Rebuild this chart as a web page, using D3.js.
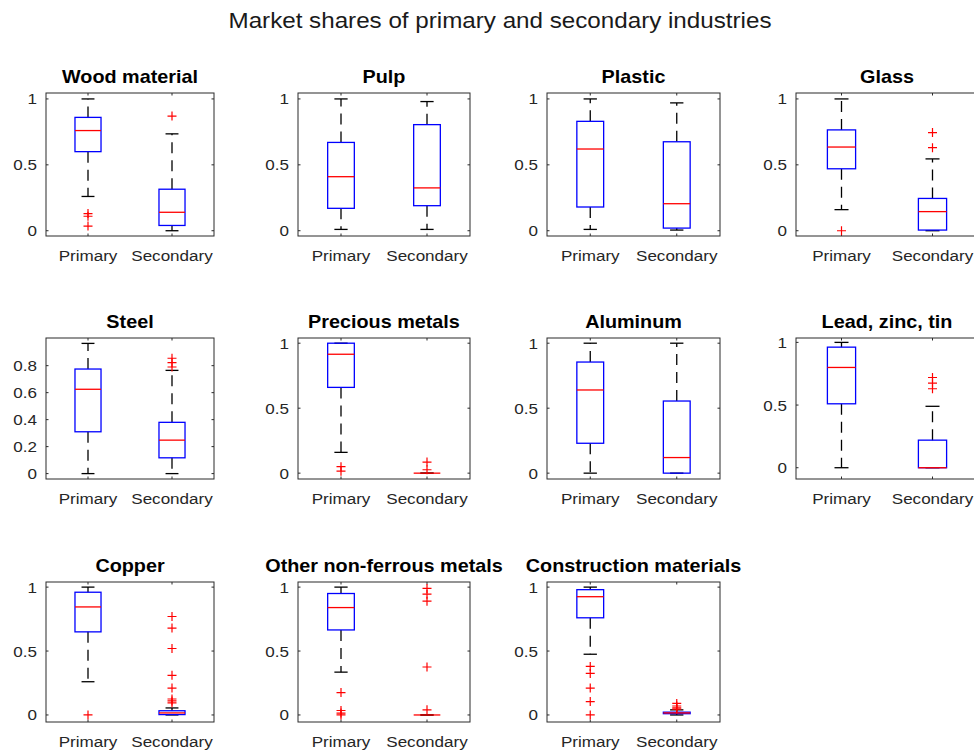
<!DOCTYPE html>
<html>
<head>
<meta charset="utf-8">
<script src="https://cdn.jsdelivr.net/npm/d3@7"></script>
<style>
  body { margin: 0; background: #fff; }
  text { font-family: "Liberation Sans", Arial, sans-serif; }
</style>
</head>
<body>
<div class="fig"></div>
<script>
// ---- data ----
const mainTitle = "Market shares of primary and secondary industries";
const categories = ["Wood material", "Pulp", "Plastic", "Glass",
  "Steel", "Precious metals", "Aluminum", "Lead, zinc, tin",
  "Copper", "Other non-ferrous metals", "Construction materials"];
const groups = ["Primary", "Secondary"];

// [lower whisker, q1, median, q3, upper whisker]
const primaryStats = [
  [0.26, 0.60, 0.76, 0.86, 1.0],
  [0.01, 0.17, 0.41, 0.67, 1.0],
  [0.01, 0.18, 0.62, 0.83, 1.0],
  [0.16, 0.47, 0.635, 0.765, 1.0],
  [0.0, 0.31, 0.625, 0.775, 0.965],
  [0.16, 0.66, 0.915, 1.0, 1.0],
  [0.0, 0.23, 0.64, 0.855, 1.0],
  [0.0, 0.51, 0.80, 0.962, 1.0],
  [0.26, 0.65, 0.845, 0.96, 1.0],
  [0.335, 0.665, 0.84, 0.95, 1.0],
  [0.475, 0.76, 0.925, 0.98, 1.0]
];
const secondaryStats = [
  [0.0, 0.04, 0.14, 0.315, 0.735],
  [0.01, 0.19, 0.325, 0.805, 0.98],
  [0.005, 0.02, 0.205, 0.675, 0.97],
  [0.0, 0.005, 0.145, 0.245, 0.545],
  [0.0, 0.117, 0.248, 0.38, 0.765],
  [0.0, 0.0, 0.0, 0.0, 0.0],
  [0.0, 0.0, 0.12, 0.555, 1.0],
  [0.0, 0.0, 0.0, 0.22, 0.49],
  [0.0, 0.003, 0.016, 0.033, 0.055],
  [0.0, 0.0, 0.0, 0.0, 0.0],
  [0.0, 0.01, 0.016, 0.022, 0.04]
];
const primaryOutliers = [
  [0.13, 0.11, 0.035], [], [], [0.0],
  [], [0.05, 0.015], [], [],
  [0.0], [0.175, 0.035, 0.015, 0.0], [0.38, 0.325, 0.21, 0.105, 0.0]
];
const secondaryOutliers = [
  [0.87], [], [], [0.745, 0.63],
  [0.855, 0.822, 0.79], [0.085, 0.026], [], [0.72, 0.675, 0.63],
  [0.77, 0.68, 0.52, 0.31, 0.21, 0.125, 0.11, 0.095],
  [0.99, 0.945, 0.89, 0.375, 0.04],
  [0.09, 0.07, 0.055, 0.045]
];
const yLimits = [
  [-0.04, 1.045], [-0.04, 1.045], [-0.04, 1.045], [-0.04, 1.045],
  [-0.04, 1.005], [-0.045, 1.04], [-0.045, 1.04], [-0.09, 1.035],
  [-0.055, 1.04], [-0.055, 1.04], [-0.055, 1.04]
];
const yTicks = [
  [0, 0.5, 1], [0, 0.5, 1], [0, 0.5, 1], [0, 0.5, 1],
  [0, 0.2, 0.4, 0.6, 0.8], [0, 0.5, 1], [0, 0.5, 1], [0, 0.5, 1],
  [0, 0.5, 1], [0, 0.5, 1], [0, 0.5, 1]
];

// ---- layout ----
let width = 974, height = 755;
let colLeft = [46, 298, 547, 796], colWidth = [168, 172, 173, 182];
let rowTop = [93, 338, 582], rowHeight = [143, 141, 140];
let stretch = 1.1; // the picture is a bit wider than tall

let svg = d3.select('.fig')
  .append('svg')
  .attr('width', width)
  .attr('height', height)
  .style('background', '#fff');

// text that is squeezed like the reference
let label = function (g, x, y, str, size, weight, anchor, fill) {
  g.append('text')
    .attr('transform', 'translate(' + x + ',' + y + ') scale(' + stretch + ',1)')
    .attr('text-anchor', anchor)
    .attr('font-size', size)
    .attr('font-weight', weight)
    .attr('fill', fill)
    .text(str);
};

label(svg, 500, 28, mainTitle, 22, 'normal', 'middle', '#1a1a1a');

categories.forEach(function (name, i) {
  let row = Math.floor(i / 4), col = i % 4;
  let w = colWidth[col], h = rowHeight[row];
  let g = svg.append('g')
    .attr('transform', 'translate(' + colLeft[col] + ',' + rowTop[row] + ')');

  let x = d3.scaleLinear().domain([0.5, 2.5]).range([0, w]);
  let y = d3.scaleLinear().domain(yLimits[i]).range([h, 0]);

  // frame
  g.append('rect')
    .attr('width', w).attr('height', h)
    .attr('fill', '#fff')
    .attr('stroke', '#2b2b2b').attr('stroke-width', 1);

  // y axis with inward ticks, mirrored on the right
  let yAxis = d3.axisLeft(y).tickValues(yTicks[i]).tickSize(0).tickFormat(d3.format('~g'));
  let ya = g.append('g').call(yAxis);
  ya.select('.domain').remove();
  ya.selectAll('text').remove();
  yTicks[i].forEach(function (t) {
    label(g, -9, y(t) + 5.5, d3.format('~g')(t), 15.5, 'normal', 'end', '#262626');
    g.append('line').attr('x1', 0).attr('x2', 2.5).attr('y1', y(t)).attr('y2', y(t))
      .attr('stroke', '#2b2b2b');
    g.append('line').attr('x1', w - 2.5).attr('x2', w).attr('y1', y(t)).attr('y2', y(t))
      .attr('stroke', '#2b2b2b');
  });

  // x ticks and labels
  groups.forEach(function (gname, k) {
    let cx = x(k + 1);
    g.append('line').attr('x1', cx).attr('x2', cx).attr('y1', h).attr('y2', h - 2.5)
      .attr('stroke', '#2b2b2b');
    g.append('line').attr('x1', cx).attr('x2', cx).attr('y1', 0).attr('y2', 2.5)
      .attr('stroke', '#2b2b2b');
    label(g, cx, h + 25, gname, 15.5, 'normal', 'middle', '#262626');
  });

  // title
  label(g, w / 2, -10, name, 18, 'bold', 'middle', '#000');

  // boxes
  let stats = [primaryStats[i], secondaryStats[i]];
  let outs = [primaryOutliers[i], secondaryOutliers[i]];
  let boxHalf = x(1.155) - x(1);
  let capHalf = x(1.077) - x(1);

  stats.forEach(function (s, k) {
    let cx = x(k + 1);
    // whiskers
    g.append('line')
      .attr('x1', cx).attr('x2', cx).attr('y1', y(s[3])).attr('y2', y(s[4]))
      .attr('stroke', '#000').attr('stroke-width', 1.3).attr('stroke-dasharray', '11,7');
    g.append('line')
      .attr('x1', cx).attr('x2', cx).attr('y1', y(s[1])).attr('y2', y(s[0]))
      .attr('stroke', '#000').attr('stroke-width', 1.3).attr('stroke-dasharray', '11,7');
    // caps
    [s[0], s[4]].forEach(function (v) {
      g.append('line')
        .attr('x1', cx - capHalf).attr('x2', cx + capHalf)
        .attr('y1', y(v)).attr('y2', y(v))
        .attr('stroke', '#000').attr('stroke-width', 1.3);
    });
    // box
    g.append('rect')
      .attr('x', cx - boxHalf).attr('width', boxHalf * 2)
      .attr('y', y(s[3])).attr('height', Math.max(0, y(s[1]) - y(s[3])))
      .attr('fill', 'none')
      .attr('stroke', '#0000ff').attr('stroke-width', 1.3);
    // median
    g.append('line')
      .attr('x1', cx - boxHalf).attr('x2', cx + boxHalf)
      .attr('y1', y(s[2])).attr('y2', y(s[2]))
      .attr('stroke', '#ff0000').attr('stroke-width', 1.3);
    // outliers
    g.selectAll(null)
      .data(outs[k])
      .enter()
      .append('path')
      .attr('d', function (d) {
        let py = y(d);
        return 'M' + (cx - 4.5) + ',' + py + 'H' + (cx + 4.5) +
               'M' + cx + ',' + (py - 4.5) + 'V' + (py + 4.5);
      })
      .attr('stroke', '#ff0000').attr('stroke-width', 1.2).attr('fill', 'none');
  });
});
</script>
</body>
</html>
